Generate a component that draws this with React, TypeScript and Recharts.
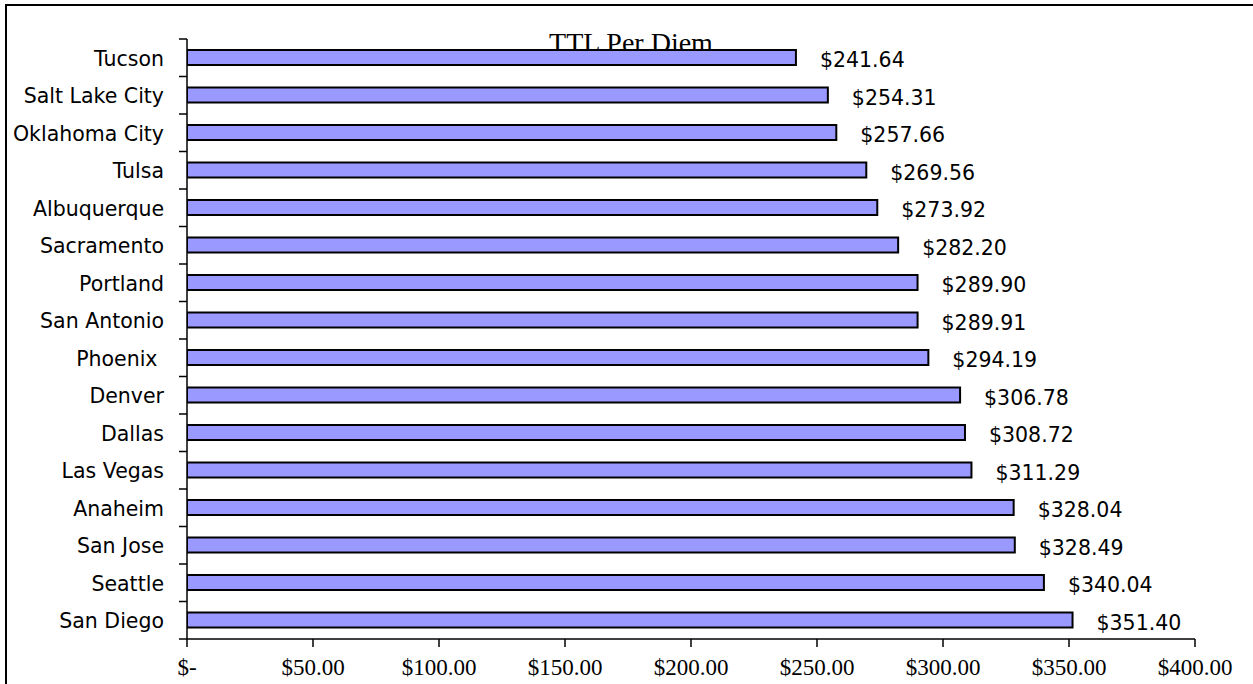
import React from 'react';
import { BarChart, Bar, XAxis, YAxis, LabelList } from 'recharts';

const cities = ['Tucson', 'Salt Lake City', 'Oklahoma City', 'Tulsa', 'Albuquerque', 'Sacramento', 'Portland', 'San Antonio', 'Phoenix ', 'Denver', 'Dallas', 'Las Vegas', 'Anaheim', 'San Jose', 'Seattle', 'San Diego'];
const values = [241.64, 254.31, 257.66, 269.56, 273.92, 282.2, 289.9, 289.91, 294.19, 306.78, 308.72, 311.29, 328.04, 328.49, 340.04, 351.4];
const xTicks = [0, 50, 100, 150, 200, 250, 300, 350, 400];
const title = 'TTL Per Diem';

const data = cities.map((city, i) => ({ city, value: values[i] }));

const CHART_H = 684;
const MARGIN_TOP = 39;
const X_AXIS_H = 45;
const fallbackHalfBand = (CHART_H - MARGIN_TOP - X_AXIS_H) / cities.length / 2;

const fmtMoney = (v: number) => (v === 0 ? '$-' : `$${v.toFixed(2)}`);

const CityTick = (props: any) => {
  const { x, y, payload, index } = props;
  const half = payload && typeof payload.offset === 'number' && payload.offset > 0 ? payload.offset : fallbackHalfBand;
  const idx = typeof index === 'number' ? index : payload.index;
  return (
    <g>
      <line x1={x - 8} x2={x} y1={y - half} y2={y - half} stroke="#000" strokeWidth={1.5} />
      {idx === cities.length - 1 && (
        <line x1={x - 8} x2={x} y1={y + half} y2={y + half} stroke="#000" strokeWidth={1.5} />
      )}
      <text x={x - 23} y={y} dy="0.4em" textAnchor="end" fill="#000"
        style={{ fontFamily: 'DejaVu Sans', fontSize: 20.5, whiteSpace: 'pre' }}>
        {payload.value}
      </text>
    </g>
  );
};

const ValueLabel = (props: any) => {
  const vb = props.viewBox || props;
  const x = vb.x ?? props.x;
  const y = vb.y ?? props.y;
  const w = vb.width ?? props.width;
  const h = vb.height ?? props.height;
  return (
    <text x={x + w + 24} y={y + h / 2} dy="0.48em" fill="#000"
      style={{ fontFamily: 'DejaVu Sans', fontSize: 20.5 }}>
      {fmtMoney(Number(props.value))}
    </text>
  );
};

export default function App() {
  return (
    <div style={{ position: 'absolute', left: 0, top: 0, width: 1253, height: 684, overflow: 'hidden', background: '#fff' }}>
      <div style={{ position: 'absolute', left: 5, top: 4, width: 1400, height: 900, border: '2px solid #000' }} />
      <div style={{ position: 'absolute', left: 431, top: 26.5, width: 400, textAlign: 'center', fontFamily: 'Liberation Serif', fontSize: 28, lineHeight: '32px', color: '#000' }}>
        {title}
      </div>
      <div style={{ position: 'absolute', left: 0, top: 0 }}>
        <BarChart width={1253} height={CHART_H} data={data} layout="vertical"
          margin={{ top: MARGIN_TOP, right: 58, bottom: 0, left: 0 }}>
          <XAxis type="number" domain={[0, 400]} ticks={xTicks} interval={0}
            tickFormatter={fmtMoney} height={X_AXIS_H} tickSize={8} tickMargin={12}
            axisLine={{ stroke: '#000', strokeWidth: 1.5 }} tickLine={{ stroke: '#000', strokeWidth: 1.5 }}
            tick={{ fill: '#000', fontFamily: 'Liberation Serif', fontSize: 23 }} allowDataOverflow />
          <YAxis type="category" dataKey="city" width={187} interval={0}
            tickSize={0} tickMargin={0} tickLine={false}
            axisLine={{ stroke: '#000', strokeWidth: 1.5 }} tick={<CityTick />} />
          <Bar dataKey="value" barSize={15} fill="#9999FF" stroke="#000" strokeWidth={2} isAnimationActive={false}>
            <LabelList dataKey="value" content={<ValueLabel />} />
          </Bar>
        </BarChart>
      </div>
    </div>
  );
}
